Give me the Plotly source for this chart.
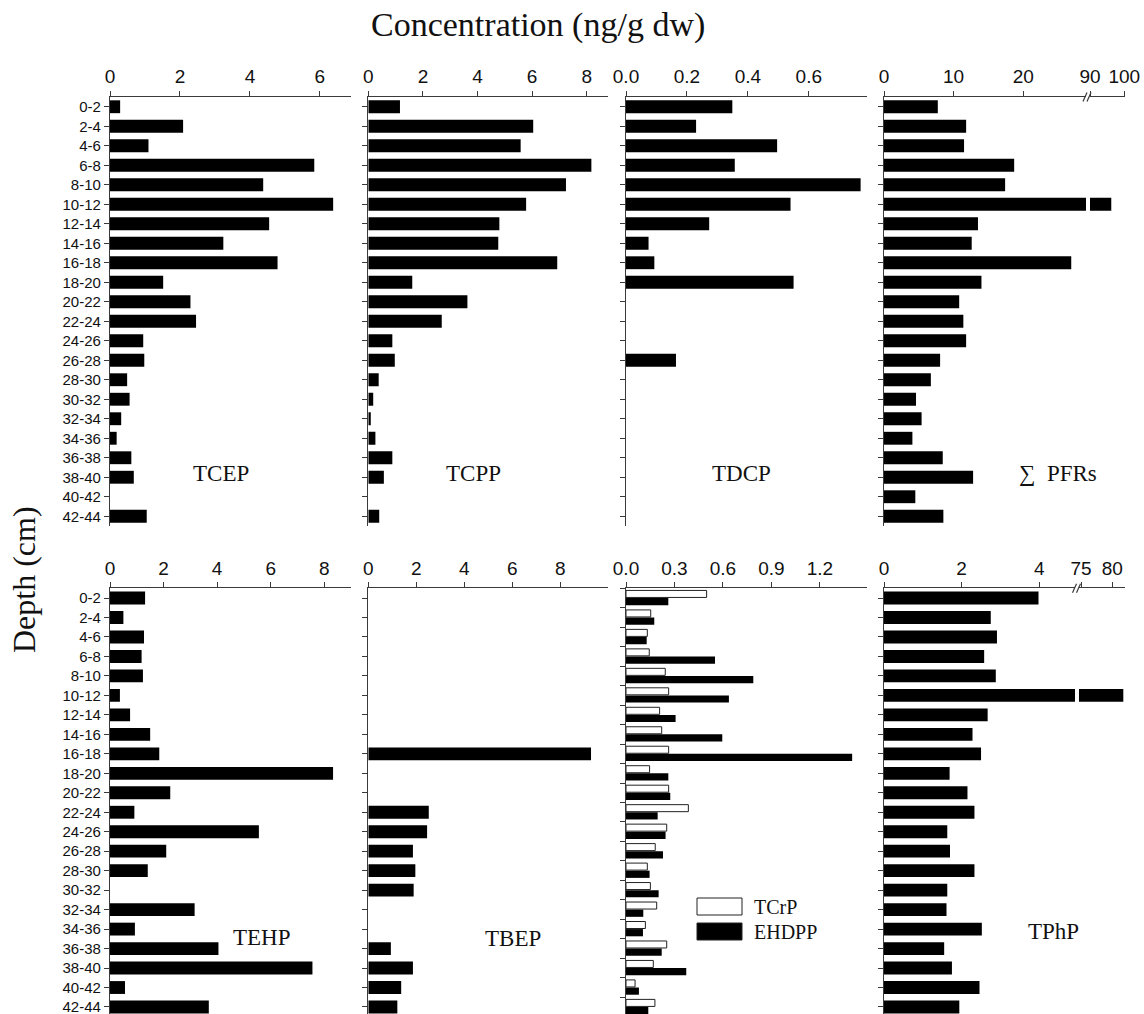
import plotly.graph_objects as go

W, H = 1144, 1014

# ---- data ---------------------------------------------------------------
depth = ["0-2", "2-4", "4-6", "6-8", "8-10", "10-12", "12-14", "14-16", "16-18",
         "18-20", "20-22", "22-24", "24-26", "26-28", "28-30", "30-32", "32-34",
         "34-36", "36-38", "38-40", "40-42", "42-44"]

tcep = [0.29, 2.09, 1.10, 5.84, 4.38, 6.38, 4.55, 3.24, 4.79, 1.52, 2.30,
        2.46, 0.95, 0.98, 0.49, 0.56, 0.32, 0.19, 0.61, 0.68, 0.0, 1.05]
tcpp = [1.16, 6.04, 5.58, 8.17, 7.24, 5.78, 4.80, 4.76, 6.92, 1.61, 3.63,
        2.69, 0.88, 0.97, 0.38, 0.18, 0.09, 0.26, 0.88, 0.57, 0.0, 0.40]
tdcp = [0.349, 0.230, 0.496, 0.357, 0.770, 0.540, 0.273, 0.074, 0.093, 0.550, 0.0,
        0.0, 0.0, 0.164, 0.0, 0.0, 0.0, 0.0, 0.0, 0.0, 0.0, 0.0]
pfrs = [7.73, 11.8, 11.5, 18.7, 17.4, 96.2, 13.5, 12.6, 26.9, 14.0, 10.8,
        11.4, 11.8, 8.06, 6.73, 4.60, 5.40, 4.08, 8.44, 12.8, 4.50, 8.53]
tehp = [1.31, 0.50, 1.27, 1.18, 1.23, 0.37, 0.75, 1.50, 1.84, 8.33, 2.25,
        0.91, 5.56, 2.10, 1.41, 0.0, 3.16, 0.93, 4.05, 7.56, 0.56, 3.69]
tbep = [0.0, 0.0, 0.0, 0.0, 0.0, 0.0, 0.0, 0.0, 9.28, 0.0, 0.0,
        2.52, 2.45, 1.86, 1.96, 1.89, 0.0, 0.0, 0.94, 1.86, 1.37, 1.21]
tcrp = [0.499, 0.153, 0.132, 0.144, 0.243, 0.264, 0.208, 0.221, 0.264, 0.146, 0.264,
        0.386, 0.252, 0.181, 0.132, 0.151, 0.190, 0.120, 0.252, 0.169, 0.056, 0.179]
ehdpp = [0.262, 0.175, 0.128, 0.551, 0.788, 0.637, 0.307, 0.596, 1.400, 0.262, 0.274,
         0.196, 0.245, 0.229, 0.146, 0.202, 0.107, 0.105, 0.221, 0.373, 0.080, 0.138]
tphp = [3.98, 2.75, 2.91, 2.58, 2.88, 81.75, 2.67, 2.28, 2.50, 1.69, 2.15,
        2.33, 1.63, 1.70, 2.33, 1.63, 1.61, 2.52, 1.55, 1.75, 2.46, 1.94]

# ---- helpers ------------------------------------------------------------
def px(x):
    return x / W


def py(y):
    return 1 - y / H


SANS = "Liberation Sans"
SERIF = "Liberation Serif"
AX = "#3a3a3a"

fig = go.Figure()

top_dom = [py(526), py(97)]
bot_dom = [0, py(588.3)]
top_rng = [21.5, -0.5]
bot_rng = [21.36, -0.5]

# panel -> (x domain px, x range, tick values, tick format, row)
panels = {
    1: ([110, 351], [0, 6.89], [0, 2, 4, 6], "", "top"),
    2: ([368.3, 608.3], [0, 8.79], [0, 2, 4, 6, 8], "", "top"),
    3: ([626, 866.7], [0, 0.79], [0, 0.2, 0.4, 0.6], ".1f", "top"),
    4: ([884, 1086], [0, 29.02], [0, 10, 20], "", "top"),
    5: ([110, 351], [0, 9.0], [0, 2, 4, 6, 8], "", "bot"),
    6: ([368.3, 608.3], [0, 10.0], [0, 2, 4, 6, 8], "", "bot"),
    7: ([626, 866.7], [0, 1.49], [0, 0.3, 0.6, 0.9, 1.2], ".1f", "bot"),
    8: ([884, 1075], [0, 4.92], [0, 2, 4], "", "bot"),
    # upper segments of the broken axes
    9: ([1090, 1125], [90, 100.2], [90, 100], "", "top"),
    10: ([1079, 1125], [74.68, 82.02], [75, 80], "", "bot"),
}
y_of = {1: 1, 2: 2, 3: 3, 4: 4, 5: 5, 6: 6, 7: 7, 8: 8, 9: 4, 10: 8}

layout = {}
for k, (dom, rng, tv, fmt, row) in panels.items():
    yk = y_of[k]
    layout["xaxis" if k == 1 else f"xaxis{k}"] = dict(
        domain=[px(dom[0]), px(dom[1])], range=rng, side="top",
        anchor="y" if yk == 1 else f"y{yk}",
        tickvals=tv, tickformat=fmt, showgrid=False, zeroline=False,
        showline=True, linecolor=AX, linewidth=1.3,
        ticks="outside", ticklen=5, tickwidth=1.2, tickcolor=AX,
        tickfont=dict(family=SANS, size=19, color="#111"),
        fixedrange=True,
    )

for k in range(1, 9):
    row = panels[k][4]
    layout["yaxis" if k == 1 else f"yaxis{k}"] = dict(
        domain=top_dom if row == "top" else bot_dom,
        range=top_rng if row == "top" else bot_rng,
        anchor="x" if k == 1 else f"x{k}",
        type="category", categoryarray=depth, categoryorder="array",
        showticklabels=k in (1, 5),
        tickson="boundaries" if k == 7 else "labels",
        showgrid=False, zeroline=False,
        showline=True, linecolor=AX, linewidth=1.3,
        ticks="outside", ticklen=5, tickwidth=1.2, tickcolor=AX,
        tickfont=dict(family=SANS, size=15, color="#111"),
        fixedrange=True,
    )


def bar(vals, xa, ya, fill="black", width=0.66, offset=None, name=None, edge=0):
    kw = dict(offset=offset) if offset is not None else {}
    return go.Bar(
        x=vals, y=depth, orientation="h", xaxis=xa, yaxis=ya,
        width=width, marker=dict(color=fill, line=dict(color="#222", width=edge)),
        showlegend=False, name=name, **kw,
    )


fig.add_trace(bar(tcep, "x", "y", name="TCEP"))
fig.add_trace(bar(tcpp, "x2", "y2", name="TCPP"))
fig.add_trace(bar(tdcp, "x3", "y3", name="TDCP"))
fig.add_trace(bar(pfrs, "x4", "y4", name="PFRs"))
fig.add_trace(bar(pfrs, "x9", "y4", name="PFRs"))
fig.add_trace(bar(tehp, "x5", "y5", name="TEHP"))
fig.add_trace(bar(tbep, "x6", "y6", name="TBEP"))
fig.add_trace(bar(tcrp, "x7", "y7", fill="white", width=0.36, offset=-0.39,
                  name="TCrP", edge=1))
fig.add_trace(bar(ehdpp, "x7", "y7", width=0.37, offset=0.0, name="EHDPP"))
fig.add_trace(bar(tphp, "x8", "y8", name="TPhP"))
fig.add_trace(bar(tphp, "x10", "y8", name="TPhP"))

# ---- text ---------------------------------------------------------------
ann = []


def text(x, y, s, size, family=SERIF, xanchor="center", angle=0):
    ann.append(dict(x=px(x), y=py(y), xref="paper", yref="paper", text=s,
                    showarrow=False, xanchor=xanchor, yanchor="middle",
                    textangle=angle,
                    font=dict(family=family, size=size, color="#111")))


text(538, 25, "Concentration (ng/g dw)", 34)
text(24, 580, "Depth (cm)", 32, angle=-90)
text(220.5, 474, "TCEP", 23)
text(473.3, 474, "TCPP", 23)
text(741.7, 474, "TDCP", 23)
text(1057.5, 474, "\u2211  PFRs", 23)
text(261.7, 937, "TEHP", 23)
text(512.5, 938, "TBEP", 23)
text(1053.3, 931, "TPhP", 23)
text(752, 906.5, "TCrP", 20, xanchor="left")
text(752, 931.5, "EHDPP", 20, xanchor="left")

# ---- shapes: axis breaks and legend keys --------------------------------
shapes = []


def seg(x0, y0, x1, y1):
    shapes.append(dict(type="line", xref="paper", yref="paper",
                       x0=px(x0), y0=py(y0), x1=px(x1), y1=py(y1),
                       line=dict(color=AX, width=1.2)))


for bx, by in [(1083, 97), (1072.5, 588.3)]:
    seg(bx, by + 4.5, bx + 4, by - 4.5)
    seg(bx + 4, by + 4.5, bx + 8, by - 4.5)

for (y0, y1, fill) in [(898, 915, "white"), (923, 940, "black")]:
    shapes.append(dict(type="rect", xref="paper", yref="paper",
                       x0=px(697), x1=px(742), y0=py(y1), y1=py(y0),
                       fillcolor=fill, line=dict(color="#222", width=1)))

fig.update_layout(
    width=W, height=H, margin=dict(l=0, r=0, t=0, b=0, autoexpand=False),
    paper_bgcolor="white", plot_bgcolor="white",
    barmode="overlay", annotations=ann, shapes=shapes,
    showlegend=False, **layout,
)

fig.write_html("out.html")
